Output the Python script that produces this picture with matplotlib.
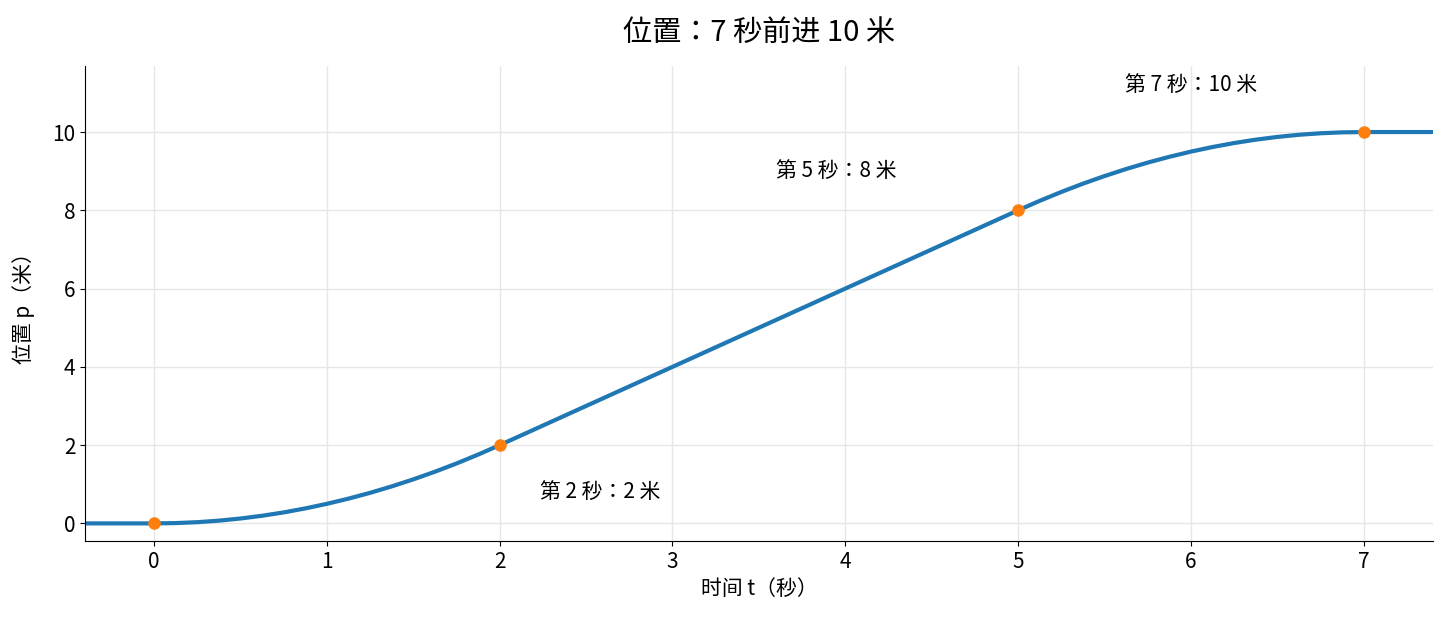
import matplotlib
matplotlib.use("Agg")
import matplotlib.pyplot as plt

plt.rcParams['font.family'] = ['Noto Sans CJK JP', 'DejaVu Sans']

# curve
t_vals = [-0.4, 0.0, 0.125, 0.25, 0.375, 0.5, 0.625, 0.75, 0.875, 1.0, 1.125, 1.25, 1.375,
          1.5, 1.625, 1.75, 1.875, 2.0, 2.5, 3.0, 3.5, 4.0, 4.5, 5.0, 5.125, 5.25, 5.375,
          5.5, 5.625, 5.75, 5.875, 6.0, 6.125, 6.25, 6.375, 6.5, 6.625, 6.75, 6.875, 7.0, 7.4]
p_vals = [0.0, 0.0, 0.008, 0.031, 0.07, 0.125, 0.195, 0.281, 0.383, 0.5, 0.633, 0.781, 0.945,
          1.125, 1.32, 1.531, 1.758, 2.0, 3.0, 4.0, 5.0, 6.0, 7.0, 8.0, 8.242, 8.469, 8.68,
          8.875, 9.055, 9.219, 9.367, 9.5, 9.617, 9.719, 9.805, 9.875, 9.93, 9.969, 9.992, 10.0, 10.0]

key_t = [0, 2, 5, 7]
key_p = [0, 2, 8, 10]
labels = ["第 2 秒：2 米", "第 5 秒：8 米", "第 7 秒：10 米"]
label_pos = [(2.58, 0.8), (3.95, 9.0), (6.0, 11.2)]

fig, ax = plt.subplots(figsize=(14.4, 6.24), dpi=100)
ax.plot(t_vals, p_vals, color='#1f77b4', lw=3)
ax.plot(key_t, key_p, 'o', color='#ff7f0e', ms=8, zorder=3)
for txt, (x, y) in zip(labels, label_pos):
    ax.text(x, y, txt, ha='center', va='center', fontsize=15)

ax.set_xlim(-0.4, 7.4)
ax.set_ylim(-0.45, 11.7)
ax.set_yticks([0, 2, 4, 6, 8, 10])
ax.grid(True, color='#e6e6e6', lw=1)
ax.spines['top'].set_visible(False)
ax.spines['right'].set_visible(False)
ax.tick_params(labelsize=15)
ax.set_xlabel("时间 t（秒）", fontsize=15)
ax.set_ylabel("位置 p（米）", fontsize=15, labelpad=12)
ax.set_title("位置：7 秒前进 10 米", fontsize=21, pad=18)

fig.subplots_adjust(left=0.059, right=0.995, top=0.895, bottom=0.133)
fig.savefig("out.png")
